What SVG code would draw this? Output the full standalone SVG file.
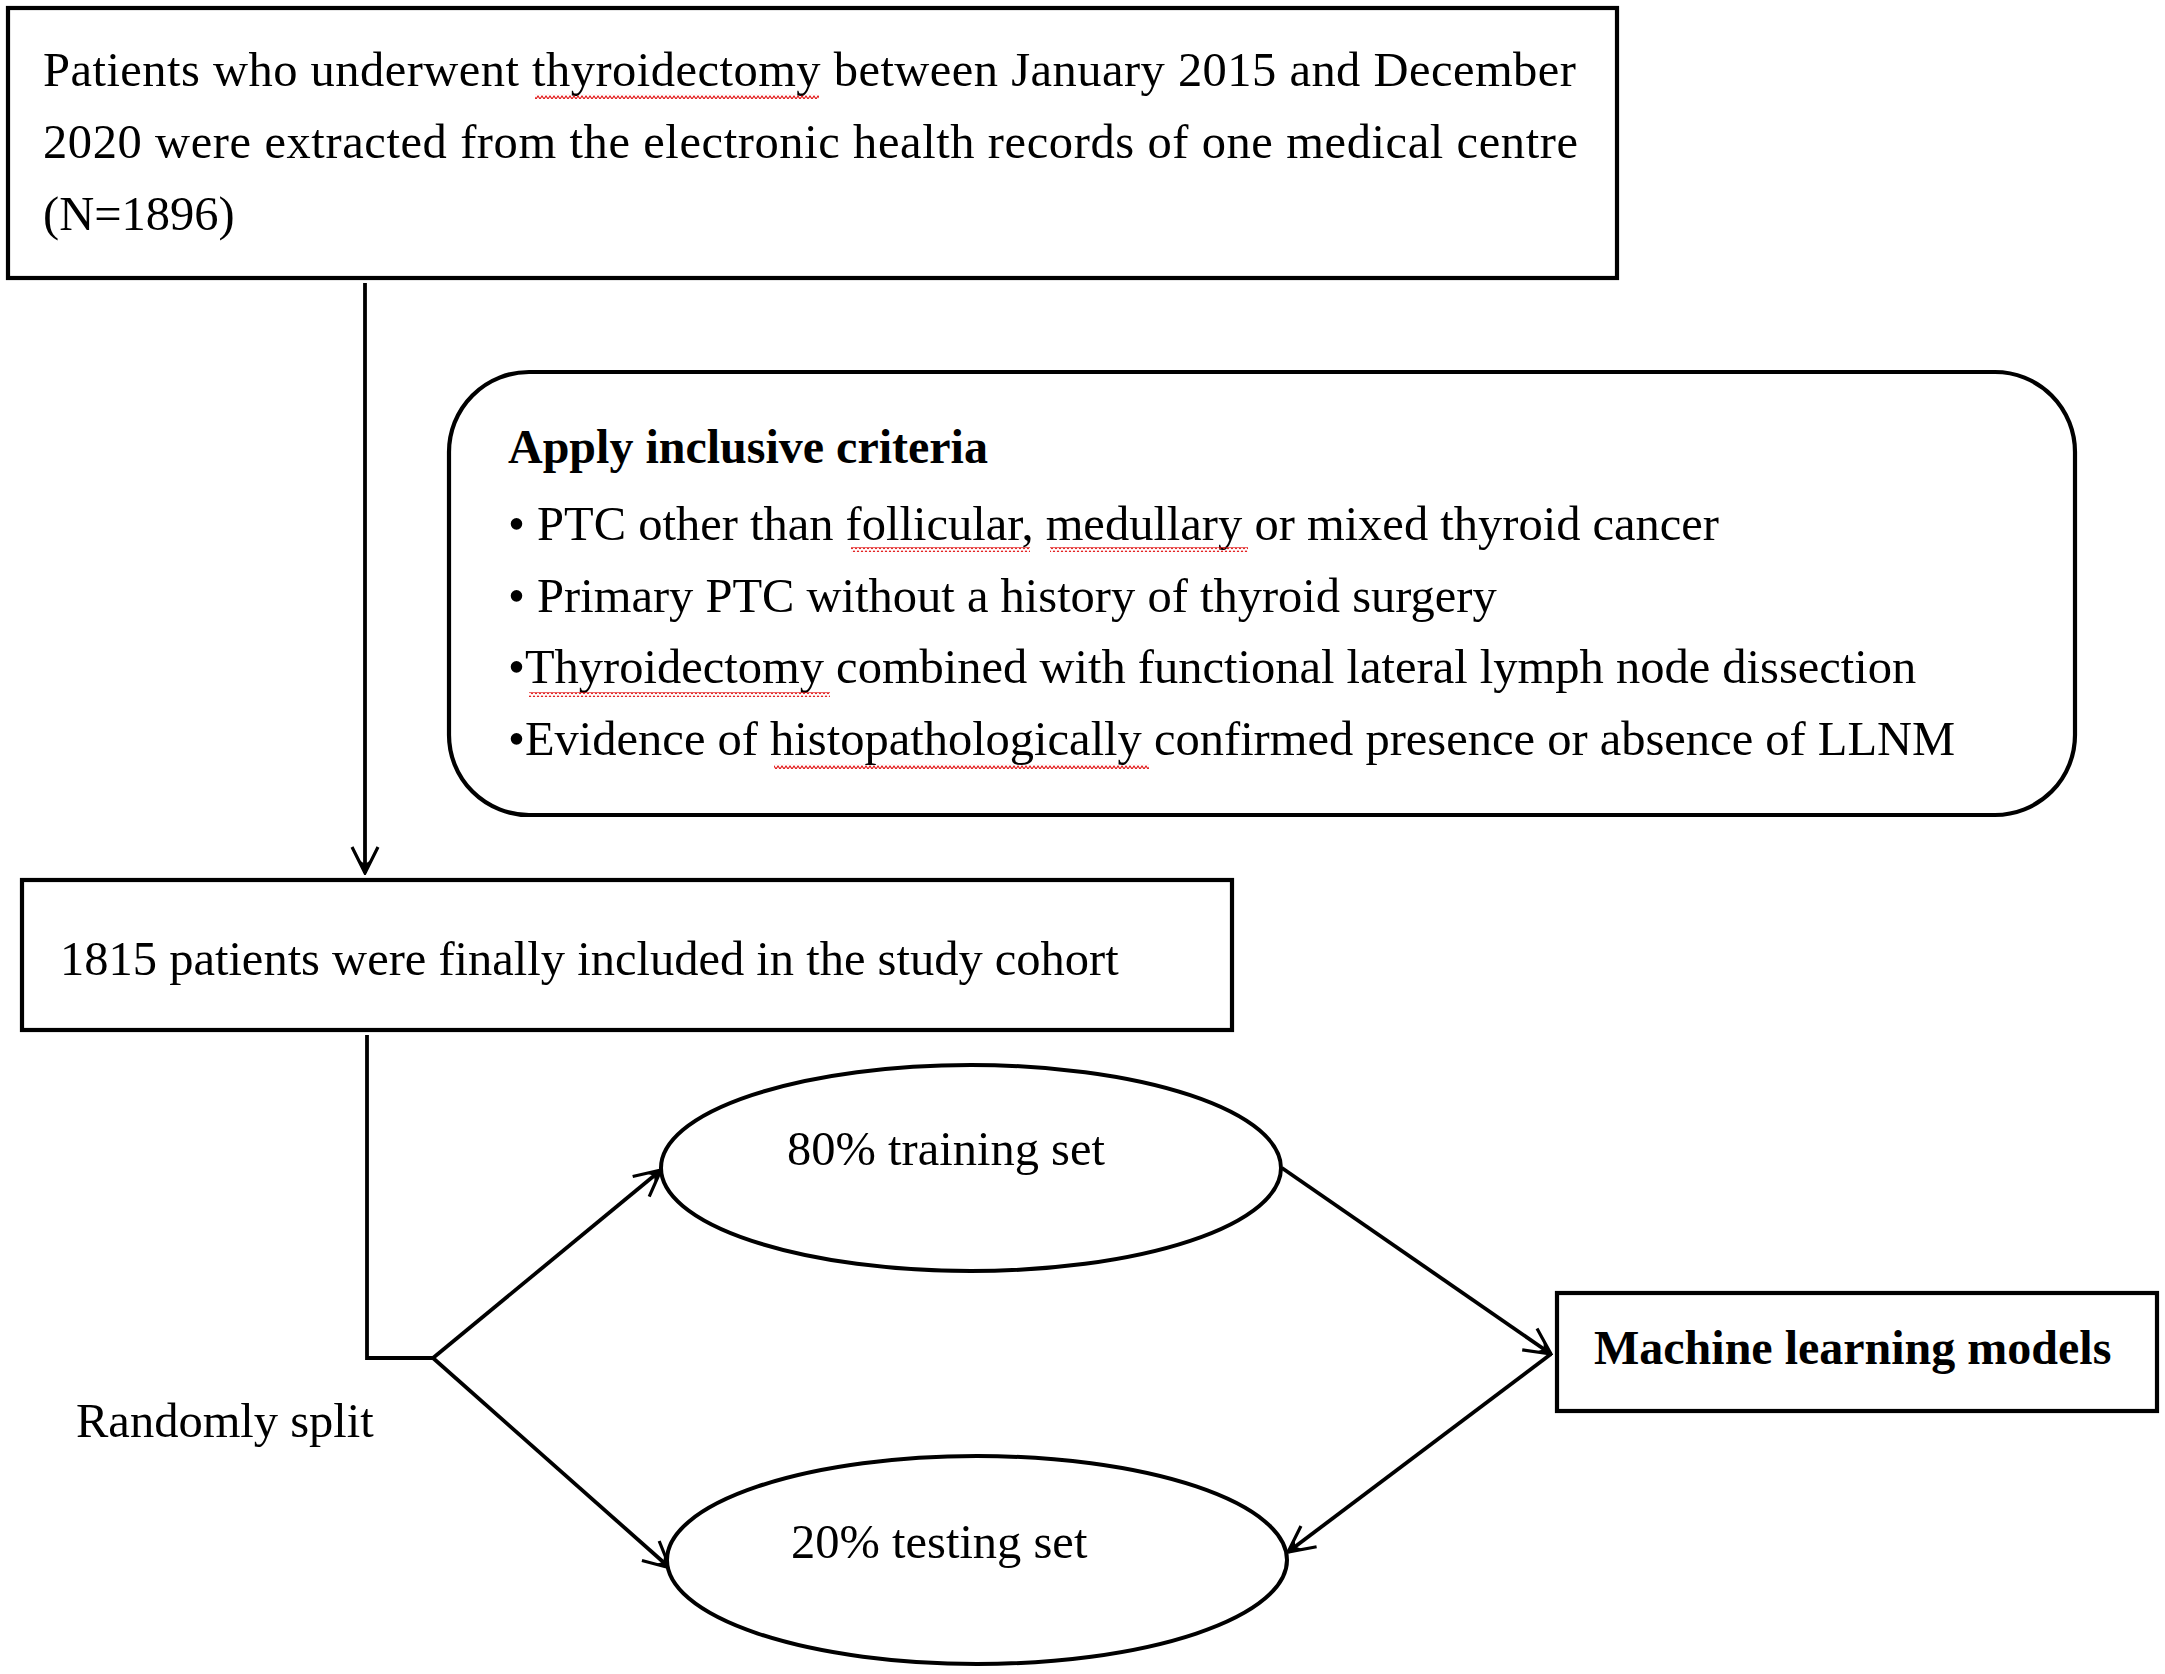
<svg xmlns="http://www.w3.org/2000/svg" width="2165" height="1674" viewBox="0 0 2165 1674">
  <style>
    .box { fill: #ffffff; stroke: #000000; stroke-width: 4.2; }
    .ell { fill: #ffffff; stroke: #000000; stroke-width: 4; }
    .t { font-family: "Liberation Serif", "Times New Roman", serif; font-size: 48.5px; fill: #000000; }
    .b { font-family: "Liberation Serif", "Times New Roman", serif; font-size: 48px; font-weight: bold; fill: #000000; }
    .conn { fill: none; stroke: #000000; stroke-width: 3.8; }
    .sq { fill: url(#squiggle); stroke: none; }
  </style>
  <defs>
    <marker id="arrow" viewBox="-28 -15 30 30" refX="0" refY="0" markerWidth="30" markerHeight="30" markerUnits="userSpaceOnUse" orient="auto">
      <path d="M-26,-13 L0,0 L-26,13" fill="none" stroke="#000000" stroke-width="3.2"/>
      <path d="M1,0 L-13,-6 L-9,0 L-13,6 Z" fill="#000000"/>
    </marker>
    <pattern id="squiggle" x="0" y="0" width="4" height="5" patternUnits="userSpaceOnUse">
      <path d="M0,4 L2,1 L4,4" fill="none" stroke="#e01010" stroke-width="1.1"/>
    </pattern>
  </defs>

  <g id="connectors">
    <line class="conn" x1="365" y1="283" x2="365" y2="873" marker-end="url(#arrow)"/>
    <polyline class="conn" points="367,1035 367,1358 433,1358"/>
    <line class="conn" x1="433" y1="1358" x2="661" y2="1170" marker-end="url(#arrow)"/>
    <line class="conn" x1="433" y1="1358" x2="670" y2="1568" marker-end="url(#arrow)"/>
    <line class="conn" x1="1282" y1="1168" x2="1551" y2="1354" marker-end="url(#arrow)"/>
    <line class="conn" x1="1551" y1="1354" x2="1288" y2="1552" marker-end="url(#arrow)"/>
  </g>

  <g id="node-source">
    <rect class="box" x="8" y="8" width="1609" height="270"/>
    <text class="t" x="43" y="86" textLength="1533" lengthAdjust="spacing">Patients who underwent thyroidectomy between January 2015 and December</text>
    <text class="t" x="43" y="158" textLength="1535" lengthAdjust="spacing">2020 were extracted from the electronic health records of one medical centre</text>
    <text class="t" x="43" y="230">(N=1896)</text>
    <rect class="sq" x="535" y="94" width="284" height="5"/>
  </g>

  <g id="node-criteria">
    <rect class="box" x="449" y="372" width="1626" height="443" rx="80" ry="80"/>
    <text class="b" x="508" y="463">Apply inclusive criteria</text>
    <text class="t" x="508" y="540">• PTC other than follicular, medullary or mixed thyroid cancer</text>
    <text class="t" x="508" y="612">• Primary PTC without a history of thyroid surgery</text>
    <text class="t" x="508" y="683">•Thyroidectomy combined with functional lateral lymph node dissection</text>
    <text class="t" x="508" y="755">•Evidence of histopathologically confirmed presence or absence of LLNM</text>
    <rect class="sq" x="851" y="547" width="179" height="5"/>
    <rect class="sq" x="1050" y="547" width="198" height="5"/>
    <rect class="sq" x="529" y="692" width="301" height="5"/>
    <rect class="sq" x="774" y="764" width="375" height="5"/>
  </g>

  <g id="node-cohort">
    <rect class="box" x="22" y="880" width="1210" height="150"/>
    <text class="t" x="60" y="975">1815 patients were finally included in the study cohort</text>
  </g>

  <g id="label-split">
    <text class="t" x="76" y="1437">Randomly split</text>
  </g>

  <g id="node-training">
    <ellipse class="ell" cx="971" cy="1168" rx="310" ry="103"/>
    <text class="t" x="787" y="1165">80% training set</text>
  </g>

  <g id="node-testing">
    <ellipse class="ell" cx="977" cy="1560" rx="310" ry="104"/>
    <text class="t" x="791" y="1558">20% testing set</text>
  </g>

  <g id="node-ml">
    <rect class="box" x="1557" y="1293" width="600" height="118"/>
    <text class="b" x="1594" y="1364">Machine learning models</text>
  </g>
</svg>
